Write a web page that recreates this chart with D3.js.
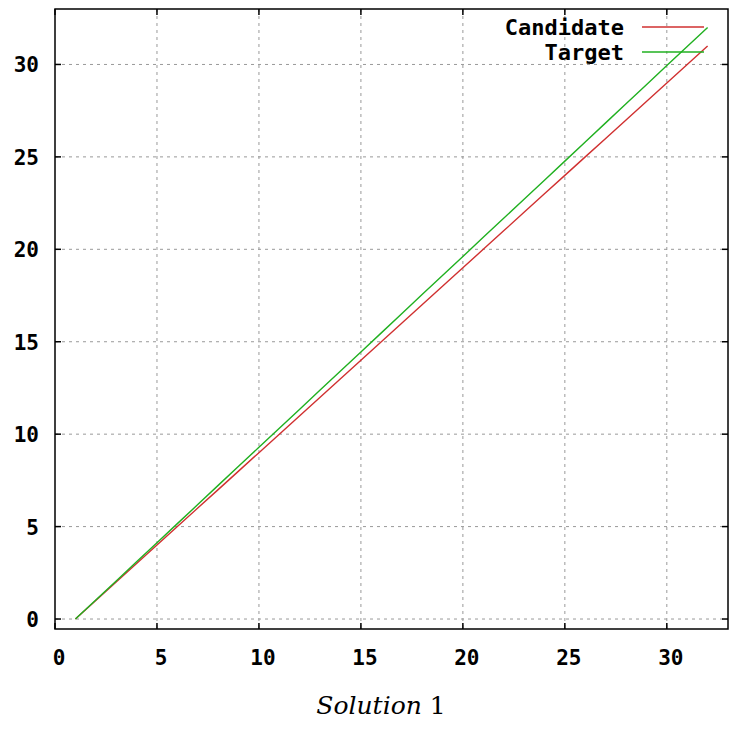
<!DOCTYPE html>
<html lang="en">
<head>
    <title>Solution 1</title>
    <script src="https://d3js.org/d3.v7.min.js"></script>
    <style>
        body { margin: 0; background: white; }
        .tick-label { font-family: "DejaVu Sans Mono", monospace; font-weight: bold; font-size: 21px; }
        .legend-label { font-family: "DejaVu Sans Mono", monospace; font-weight: bold; font-size: 22px; }
        .grid line { stroke: #999999; stroke-width: 1; stroke-dasharray: 3,4; }
        .line { fill: none; stroke-width: 1.4; }
    </style>
</head>
<body>
<div id="chart"></div>
<script>
    var w = 729;
    var h = 735;

    // data
    var xValues = [1, 2, 3, 4, 5, 6, 7, 8, 9, 10, 11, 12, 13, 14, 15, 16,
                   17, 18, 19, 20, 21, 22, 23, 24, 25, 26, 27, 28, 29, 30, 31, 32];
    var candidate = [0, 1, 2, 3, 4, 5, 6, 7, 8, 9, 10, 11, 12, 13, 14, 15,
                     16, 17, 18, 19, 20, 21, 22, 23, 24, 25, 26, 27, 28, 29, 30, 31];
    var target = [0, 1.03, 2.06, 3.10, 4.13, 5.16, 6.19, 7.23, 8.26, 9.29, 10.32, 11.35,
                  12.39, 13.42, 14.45, 15.48, 16.52, 17.55, 18.58, 19.61, 20.65, 21.68,
                  22.71, 23.74, 24.77, 25.81, 26.84, 27.87, 28.90, 29.94, 30.97, 32.00];
    var xTicks = [0, 5, 10, 15, 20, 25, 30];
    var yTicks = [0, 5, 10, 15, 20, 25, 30];
    var seriesNames = ["Candidate", "Target"];
    var seriesColors = ["#d03030", "#20b020"];

    var padL = 55, padR = 728, padT = 9, padB = 629;

    var svg = d3.select("#chart")
        .append("svg")
        .attr("width", w)
        .attr("height", h);

    var xScale = d3.scaleLinear().domain([0, 33]).range([padL, padR]);
    var yScale = d3.scaleLinear().domain([-0.54, 33]).range([padB, padT]);

    // grid
    var grid = svg.append("g").attr("class", "grid");
    grid.selectAll("line.v")
        .data(xTicks.filter(d => d > 0))
        .enter().append("line")
        .attr("x1", d => xScale(d)).attr("x2", d => xScale(d))
        .attr("y1", padT).attr("y2", padB);
    grid.selectAll("line.h")
        .data(yTicks)
        .enter().append("line")
        .attr("y1", d => yScale(d)).attr("y2", d => yScale(d))
        .attr("x1", padL).attr("x2", padR);

    // ticks on all four sides, pointing in
    var tickLen = 6;
    var ticks = svg.append("g").attr("stroke", "black").attr("stroke-width", 1.5);
    xTicks.forEach(function(t) {
        ticks.append("line").attr("x1", xScale(t)).attr("x2", xScale(t))
            .attr("y1", padB).attr("y2", padB - tickLen);
        ticks.append("line").attr("x1", xScale(t)).attr("x2", xScale(t))
            .attr("y1", padT).attr("y2", padT + tickLen);
    });
    yTicks.forEach(function(t) {
        ticks.append("line").attr("y1", yScale(t)).attr("y2", yScale(t))
            .attr("x1", padL).attr("x2", padL + tickLen);
        ticks.append("line").attr("y1", yScale(t)).attr("y2", yScale(t))
            .attr("x1", padR).attr("x2", padR - tickLen);
    });

    // tick labels
    svg.selectAll("text.xl")
        .data(xTicks)
        .enter().append("text")
        .attr("class", "tick-label")
        .attr("x", d => xScale(d) + 4)
        .attr("y", 665)
        .attr("text-anchor", "middle")
        .text(d => d);
    svg.selectAll("text.yl")
        .data(yTicks)
        .enter().append("text")
        .attr("class", "tick-label")
        .attr("x", 39)
        .attr("y", d => yScale(d) + 8)
        .attr("text-anchor", "end")
        .text(d => d);

    // lines
    var line = d3.line()
        .x((d, i) => xScale(xValues[i]))
        .y(d => yScale(d));
    [candidate, target].forEach(function(s, i) {
        svg.append("path")
            .datum(s)
            .attr("class", "line")
            .attr("stroke", seriesColors[i])
            .attr("d", line);
    });

    // frame
    svg.append("rect")
        .attr("x", padL).attr("y", padT)
        .attr("width", padR - padL).attr("height", padB - padT)
        .attr("fill", "none").attr("stroke", "black").attr("stroke-width", 1.5);

    // legend
    seriesNames.forEach(function(name, i) {
        var y = 27 + i * 25;
        svg.append("text")
            .attr("class", "legend-label")
            .attr("x", 624).attr("y", y + 8)
            .attr("text-anchor", "end")
            .text(name);
        svg.append("line")
            .attr("x1", 642).attr("x2", 704)
            .attr("y1", y).attr("y2", y)
            .attr("stroke", seriesColors[i]).attr("stroke-width", 1.4);
    });

    // caption
    var cap = svg.append("text")
        .attr("x", 381).attr("y", 714)
        .attr("text-anchor", "middle")
        .style("font-family", "'DejaVu Serif', serif")
        .style("font-size", "25px");
    cap.append("tspan").style("font-style", "italic").text("Solution ");
    cap.append("tspan").text("1");
</script>
</body>
</html>
